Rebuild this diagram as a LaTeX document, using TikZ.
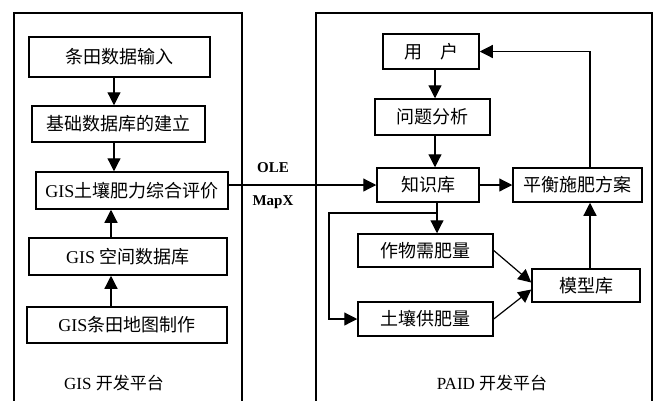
\documentclass[tikz,border=0pt]{standalone}
\usepackage{fontspec}
\setmainfont{Liberation Serif}
\newfontfamily\cjk{Noto Sans CJK SC}
\usetikzlibrary{arrows.meta,calc}
\begin{document}
\begin{tikzpicture}[x=1pt,y=-1pt,
  box/.style={draw,line width=1.5pt,inner sep=0pt,font=\fontsize{18}{20}\selectfont},
  cont/.style={draw,line width=1.1pt},
  arr/.style={line width=1.2pt,-{Triangle[length=13pt,width=13pt]}},
  lbl/.style={font=\fontsize{15}{17}\selectfont\bfseries},
  plat/.style={font=\fontsize{17}{19}\selectfont}]
\useasboundingbox (0,0) rectangle (658,400);
\begin{scope}
\clip (0,0) rectangle (658,400);
\draw[cont] (14,420) -- (14,13) -- (242,13) -- (242,420);
\draw[cont] (316,420) -- (316,13) -- (652,13) -- (652,420);
\end{scope}
% left
\node[box,minimum width=181pt,minimum height=40pt] (b1) at (119.5,57) {\cjk 条田数据输入};
\node[box,minimum width=173pt,minimum height=36pt] (b2) at (118.5,124) {\cjk 基础数据库的建立};
\node[box,minimum width=192pt,minimum height=37pt] (b3) at (132,190.5) {GIS{\cjk 土壤肥力综合评价}};
\node[box,minimum width=198pt,minimum height=37pt] (b4) at (128,256.5) {GIS {\cjk 空间数据库}};
\node[box,minimum width=200pt,minimum height=36pt] (b5) at (127,325) {GIS{\cjk 条田地图制作}};
\node[plat] (lp) at (114,383) {GIS {\cjk 开发平台}};
\draw[arr] (b1.south -| 114,0) -- (b2.north -| 114,0);
\draw[arr] (b2.south -| 114,0) -- (b3.north -| 114,0);
\draw[arr] (b4.north -| 111,0) -- (b3.south -| 111,0);
\draw[arr] (b5.north -| 111,0) -- (b4.south -| 111,0);
% right
\node[box,minimum width=96pt,minimum height=35pt] (u) at (431,51.5) {\cjk 用\quad 户};
\node[box,minimum width=115pt,minimum height=36pt] (q) at (432.5,117) {\cjk 问题分析};
\node[box,minimum width=102pt,minimum height=34pt] (k) at (428,185) {\cjk 知识库};
\node[box,minimum width=129pt,minimum height=34pt] (p) at (577.5,185) {\cjk 平衡施肥方案};
\node[box,minimum width=135pt,minimum height=33pt] (c) at (425.5,250.5) {\cjk 作物需肥量};
\node[box,minimum width=135pt,minimum height=34pt] (s) at (425.5,319) {\cjk 土壤供肥量};
\node[box,minimum width=108pt,minimum height=33pt] (m) at (586,285.5) {\cjk 模型库};
\node[plat] (rp) at (492,383) {PAID {\cjk 开发平台}};
\coordinate (j) at (437,213);
\draw[arr] (u.south -| 435,0) -- (q.north -| 435,0);
\draw[arr] (q.south -| 435,0) -- (k.north -| 435,0);
\draw[arr] (k.east) -- (p.west);
\draw[arr] (p.north -| 590,0) |- (u.east);
\draw[arr] (k.south -| 437,0) -- (c.north -| 437,0);
\draw[arr] (j) -- (329,213) |- (s.west);
\draw[arr] (c.east) -- ($(m.west)+(0,-3)$);
\draw[arr] (s.east) -- ($(m.west)+(0,4)$);
\draw[arr] (m.north -| 590,0) -- (p.south -| 590,0);
% link
\draw[arr] (b3.east |- k.west) -- (k.west);
\node[lbl] (ole) at (273,168) {OLE};
\node[lbl] (mapx) at (273,202) {MapX};
\end{tikzpicture}
\end{document}
